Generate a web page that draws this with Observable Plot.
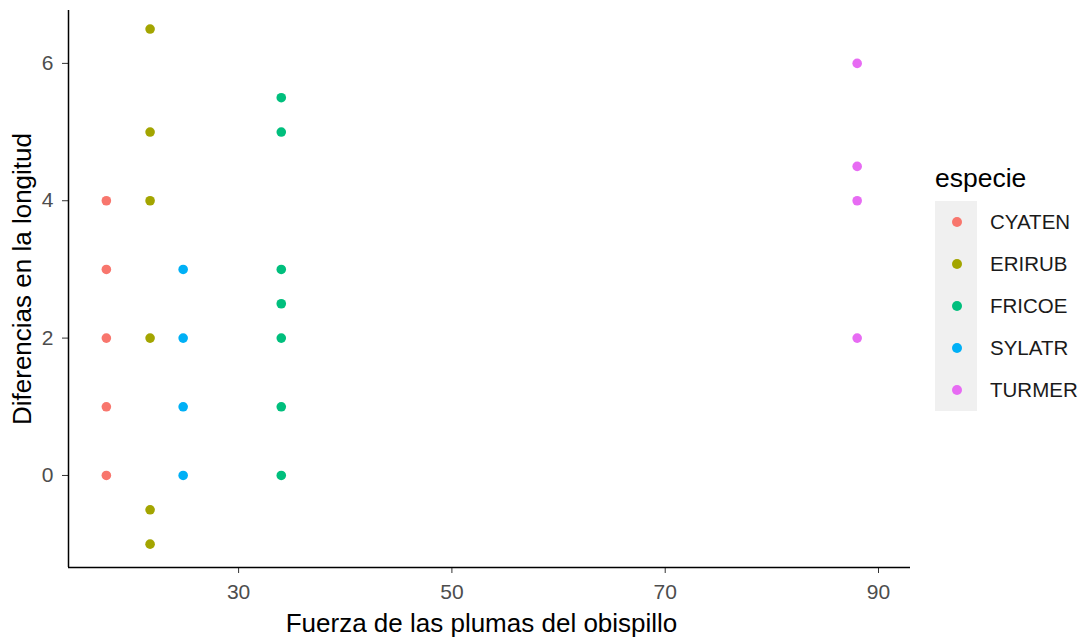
<!DOCTYPE html>
<html>
<head>
<meta charset="utf-8">
<script src="https://cdn.jsdelivr.net/npm/d3@7"></script>
<script src="https://cdn.jsdelivr.net/npm/@observablehq/plot@0.6"></script>
<style>
  body { margin: 0; background: #fff; font-family: "Liberation Sans", Arial, sans-serif; }
  #wrap { position: relative; width: 1087px; height: 639px; }
  #legend { position: absolute; left: 935px; top: 0; width: 152px; height: 639px; }
  #legend .title { position: absolute; left: 0; top: 160px; font-size: 26.5px; color: #000; line-height: 36px; white-space: nowrap; }
  #legend .keys { position: absolute; left: 0; top: 201px; width: 42px; height: 210px; background: #f0f0f0; }
  #legend .row { position: absolute; left: 0; height: 42px; display: flex; align-items: center; }
  #legend .dot { width: 10px; height: 10px; border-radius: 50%; margin-left: 17px; margin-right: 28px; }
  #legend .lab { font-size: 20.5px; color: #1a1a1a; white-space: nowrap; }
</style>
</head>
<body>
<div id="wrap"><div id="chart"></div><div id="legend"></div></div>
<script>
const species = ["CYATEN", "ERIRUB", "FRICOE", "SYLATR", "TURMER"];
const colors = ["#F8766D", "#A3A500", "#00BF7D", "#00B0F6", "#E76BF3"];
const fuerza = { CYATEN: 17.6, ERIRUB: 21.7, FRICOE: 34.0, SYLATR: 24.8, TURMER: 88.0 };
const CYATEN = [0, 1, 2, 3, 4];
const ERIRUB = [-1, -0.5, 2, 4, 5, 6.5];
const FRICOE = [0, 1, 2, 2.5, 3, 5, 5.5];
const SYLATR = [0, 1, 2, 3];
const TURMER = [2, 4, 4.5, 6];
const xTicks = [30, 50, 70, 90];
const yTicks = [0, 2, 4, 6];
const xDomain = [14.05, 93.0];
const yDomain = [-1.34, 6.77];

const series = { CYATEN, ERIRUB, FRICOE, SYLATR, TURMER };
const data = [];
for (const s of species) for (const v of series[s]) data.push({ especie: s, x: fuerza[s], y: v });

const chart = Plot.plot({
  width: 920,
  height: 639,
  marginLeft: 68,
  marginRight: 10,
  marginTop: 10,
  marginBottom: 72,
  style: { fontFamily: "Liberation Sans, Arial, sans-serif", fontSize: "21px", background: "#fff" },
  x: { domain: xDomain, ticks: xTicks },
  y: { domain: yDomain, ticks: yTicks },
  color: { domain: species, range: colors },
  marks: [
    Plot.axisX({ ticks: xTicks, tickSize: 6, tickPadding: 11, fontSize: 21, color: "#4d4d4d", stroke: "#333", label: null }),
    Plot.axisY({ ticks: yTicks, tickSize: 6, tickPadding: 9, fontSize: 21, color: "#4d4d4d", stroke: "#333", label: null }),
    Plot.ruleY([yDomain[0]], { stroke: "#000", strokeWidth: 1.5 }),
    Plot.ruleX([xDomain[0]], { stroke: "#000", strokeWidth: 1.5 }),
    Plot.dot(data, { x: "x", y: "y", fill: "especie", r: 4.8 }),
    Plot.text(["Fuerza de las plumas del obispillo"], { frameAnchor: "bottom", dx: -8, dy: 64, fontSize: 26, fill: "#000" }),
    Plot.text(["Diferencias en la longitud"], { frameAnchor: "left", textAnchor: "middle", dx: -46, dy: -10, rotate: -90, fontSize: 26, fill: "#000" })
  ]
});
document.getElementById("chart").appendChild(chart);

const leg = document.getElementById("legend");
let html = '<div class="title">especie</div><div class="keys"></div>';
species.forEach((s, i) => {
  html += `<div class="row" style="top:${201 + i * 42}px"><div class="dot" style="background:${colors[i]}"></div><div class="lab">${s}</div></div>`;
});
leg.innerHTML = html;
</script>
</body>
</html>
